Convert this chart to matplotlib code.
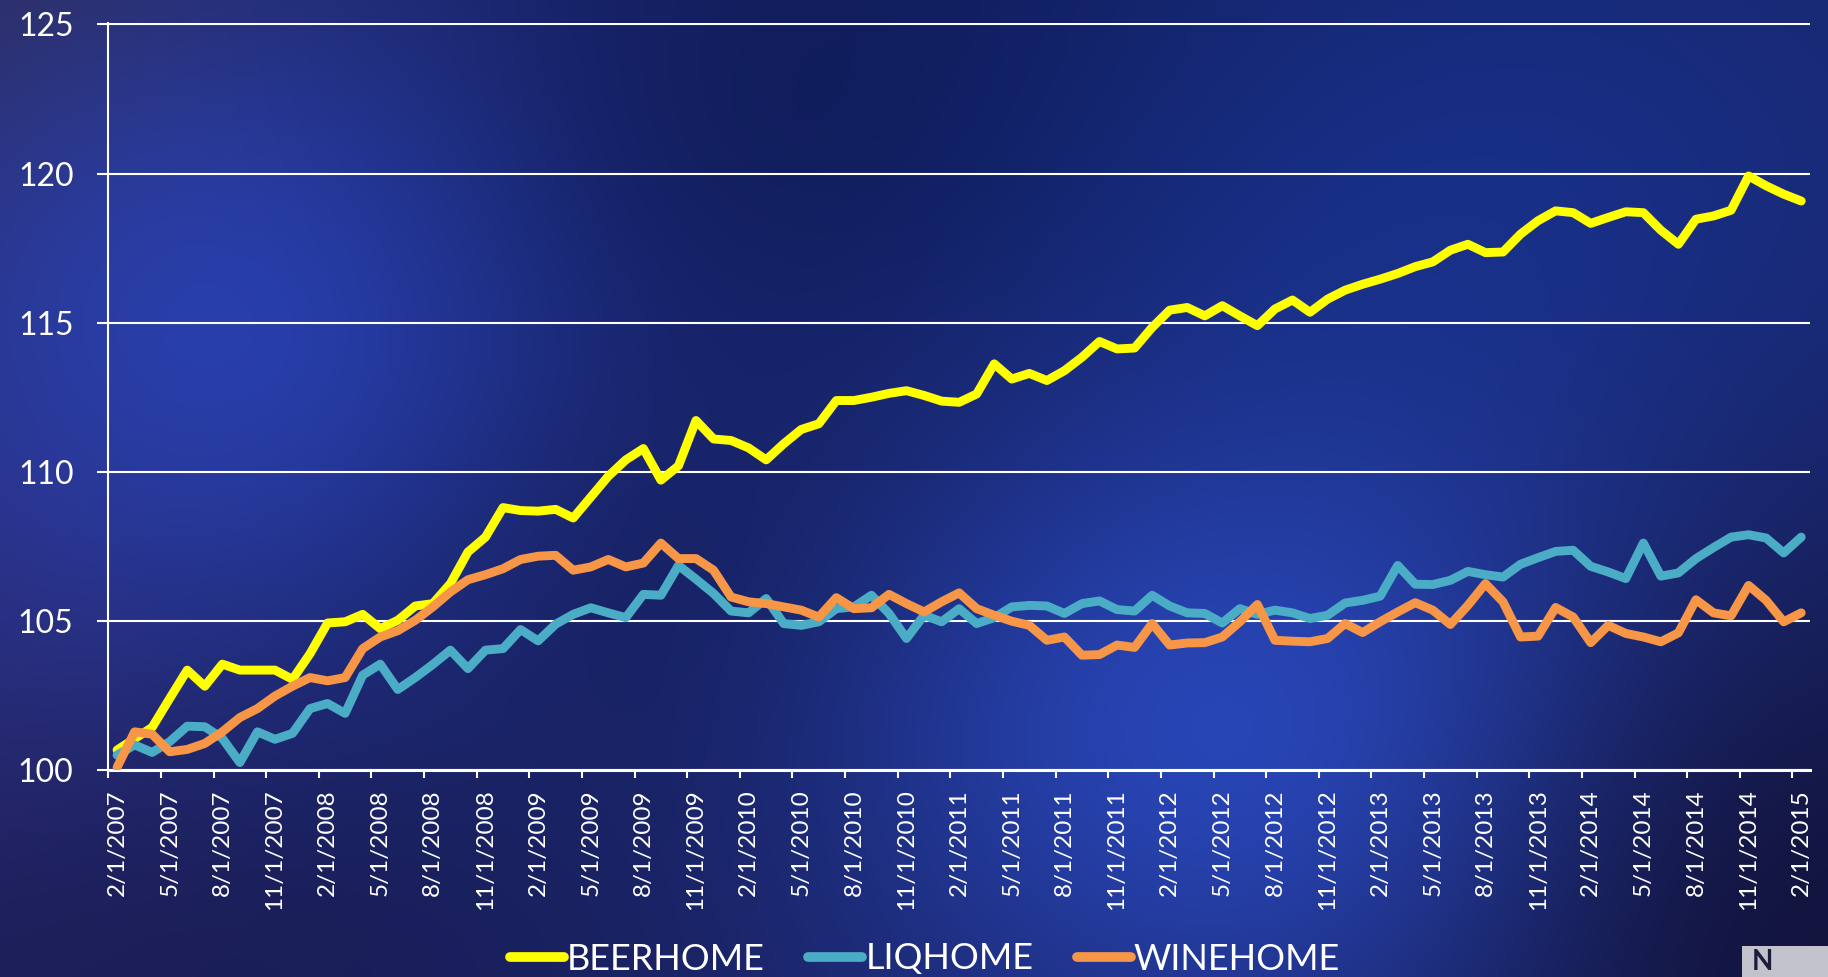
import numpy as np
import matplotlib
matplotlib.use("Agg")
import matplotlib.pyplot as plt
from matplotlib.lines import Line2D
from matplotlib.patches import Rectangle

# ---------------- data ----------------
series_names = ["BEERHOME", "LIQHOME", "WINEHOME"]

beerhome = [100.67, 101.05, 101.43, 102.40, 103.35, 102.81, 103.55, 103.35, 103.35, 103.35,
            103.04, 103.90, 104.93, 104.97, 105.22, 104.74, 105.02, 105.50, 105.58, 106.25,
            107.31, 107.81, 108.80, 108.70, 108.68, 108.74, 108.45, 109.15, 109.85, 110.40,
            110.78, 109.72, 110.20, 111.72, 111.10, 111.05, 110.80, 110.40, 110.94, 111.42,
            111.61, 112.39, 112.39, 112.50, 112.63, 112.72, 112.56, 112.37, 112.33, 112.61,
            113.62, 113.11, 113.30, 113.06, 113.39, 113.84, 114.37, 114.12, 114.15, 114.84,
            115.42, 115.51, 115.23, 115.57, 115.23, 114.90, 115.46, 115.76, 115.35, 115.79,
            116.09, 116.29, 116.46, 116.65, 116.88, 117.04, 117.43, 117.63, 117.35, 117.37,
            117.97, 118.42, 118.75, 118.69, 118.33, 118.53, 118.72, 118.69, 118.10, 117.63,
            118.47, 118.58, 118.77, 119.92, 119.59, 119.31, 119.08]

liqhome = [100.50, 100.84, 100.59, 100.95, 101.47, 101.45, 101.06, 100.25, 101.28, 101.03,
           101.23, 102.06, 102.23, 101.90, 103.18, 103.55, 102.70, 103.10, 103.54, 104.02,
           103.40, 104.02, 104.07, 104.71, 104.33, 104.89, 105.22, 105.44, 105.27, 105.11,
           105.89, 105.86, 106.86, 106.40, 105.92, 105.33, 105.27, 105.75, 104.91, 104.85,
           104.97, 105.41, 105.47, 105.86, 105.25, 104.41, 105.19, 104.97, 105.41, 104.91,
           105.11, 105.47, 105.52, 105.50, 105.25, 105.58, 105.67, 105.38, 105.33, 105.86,
           105.50, 105.27, 105.25, 104.93, 105.41, 105.22, 105.36, 105.27, 105.08, 105.19,
           105.60, 105.69, 105.83, 106.86, 106.23, 106.22, 106.36, 106.66, 106.55, 106.47,
           106.90, 107.12, 107.33, 107.37, 106.83, 106.64, 106.42, 107.61, 106.50, 106.61,
           107.09, 107.46, 107.81, 107.89, 107.78, 107.28, 107.81]

winehome = [100.09, 101.28, 101.20, 100.61, 100.69, 100.89, 101.28, 101.76, 102.06, 102.48,
            102.81, 103.10, 102.99, 103.10, 104.07, 104.46, 104.67, 105.02, 105.47, 105.97,
            106.38, 106.55, 106.75, 107.06, 107.17, 107.20, 106.70, 106.81, 107.06, 106.81,
            106.94, 107.61, 107.09, 107.09, 106.70, 105.80, 105.64, 105.58, 105.47, 105.36,
            105.13, 105.78, 105.41, 105.44, 105.89, 105.58, 105.30, 105.64, 105.94, 105.41,
            105.19, 104.99, 104.85, 104.35, 104.46, 103.85, 103.87, 104.19, 104.11, 104.91,
            104.19, 104.26, 104.27, 104.46, 104.97, 105.55, 104.35, 104.32, 104.30, 104.41,
            104.91, 104.61, 104.97, 105.30, 105.61, 105.36, 104.88, 105.52, 106.25, 105.64,
            104.46, 104.49, 105.45, 105.13, 104.27, 104.85, 104.58, 104.46, 104.30, 104.60,
            105.71, 105.27, 105.17, 106.19, 105.69, 104.97, 105.27]

tick_labels = ["2/1/2007", "5/1/2007", "8/1/2007", "11/1/2007",
               "2/1/2008", "5/1/2008", "8/1/2008", "11/1/2008",
               "2/1/2009", "5/1/2009", "8/1/2009", "11/1/2009",
               "2/1/2010", "5/1/2010", "8/1/2010", "11/1/2010",
               "2/1/2011", "5/1/2011", "8/1/2011", "11/1/2011",
               "2/1/2012", "5/1/2012", "8/1/2012", "11/1/2012",
               "2/1/2013", "5/1/2013", "8/1/2013", "11/1/2013",
               "2/1/2014", "5/1/2014", "8/1/2014", "11/1/2014",
               "2/1/2015"]

y_ticks = [100, 105, 110, 115, 120, 125]
colors = ["#FFFF00", "#4BACC6", "#F79646"]

# ---------------- figure ----------------
W, H = 1828, 977
fig = plt.figure(figsize=(W / 100, H / 100), dpi=100)
plt.rcParams['font.family'] = ['Lato', 'DejaVu Sans']

# background: smooth blue texture built from soft blobs
gh, gw = 244, 457
yy, xx = np.mgrid[0:gh, 0:gw]
xx = xx * (W / gw)
yy = yy * (H / gh)
img = np.zeros((gh, gw, 3))
img[:] = np.array([0.10, 0.14, 0.40])
blobs = [
    # cx, cy, sx, sy, color, strength
    (0, 0, 260, 300, (0.19, 0.17, 0.32), 0.85),
    (0, 650, 160, 260, (0.20, 0.18, 0.48), 0.6),
    (280, 320, 300, 240, (0.17, 0.27, 0.74), 0.88),
    (900, 120, 300, 220, (0.05, 0.09, 0.31), 0.85),
    (1500, 220, 380, 260, (0.09, 0.20, 0.57), 0.75),
    (760, 620, 230, 200, (0.07, 0.09, 0.29), 0.7),
    (1280, 740, 330, 240, (0.17, 0.30, 0.78), 0.9),
    (1828, 977, 260, 330, (0.07, 0.07, 0.22), 0.9),
    (150, 977, 380, 170, (0.10, 0.10, 0.30), 0.6),
]
for cx, cy, sx, sy, c, s in blobs:
    w = s * np.exp(-(((xx - cx) / sx) ** 2 + ((yy - cy) / sy) ** 2) / 2)
    img = img * (1 - w[..., None]) + np.array(c) * w[..., None]
bg = fig.add_axes([0, 0, 1, 1], zorder=-1)
bg.imshow(img, aspect='auto', interpolation='bicubic', extent=(0, 1, 0, 1))
bg.axis('off')

ax = fig.add_axes([108.3 / W, 1 - 770 / H, (1810 - 108.3) / W, (770 - 23.3) / H])
ax.set_facecolor('none')

x = np.arange(len(beerhome))
for vals, col in zip([beerhome, liqhome, winehome], colors):
    ax.plot(x, vals, color=col, lw=6.4, solid_joinstyle='round',
            solid_capstyle='round', zorder=3)

n = len(beerhome)
ax.set_xlim(-0.5, n - 0.5)
ax.set_ylim(100, 125.04)

ax.set_xticks(np.arange(0, n, 3))
ax.set_xticklabels(tick_labels, rotation=90, fontsize=17.5, color='white')
ax.set_xticks(np.arange(-0.5, n - 1, 3), minor=True)
ax.tick_params(axis='x', which='major', length=0, pad=14)
ax.tick_params(axis='x', which='minor', length=6, width=1.5, color='white', direction='out')

ax.set_yticks(y_ticks)
ax.set_yticklabels([str(v) for v in y_ticks], fontsize=23, color='white')
ax.tick_params(axis='y', which='major', length=8, width=1.5, color='white', pad=17)

ax.grid(axis='y', color='white', lw=1.5, zorder=1)
ax.set_axisbelow(True)
for sp in ['top', 'right']:
    ax.spines[sp].set_visible(False)
ax.spines['left'].set_color('white')
ax.spines['left'].set_linewidth(1.5)
ax.spines['bottom'].set_color('white')
ax.spines['bottom'].set_linewidth(2.2)

handles = [Line2D([0], [0], color=c, lw=7, solid_capstyle='round') for c in colors]
leg = fig.legend(handles, series_names, loc='center', bbox_to_anchor=(925 / W, 1 - 959 / H),
                 ncol=3, frameon=False, fontsize=26, handlelength=1.5,
                 handletextpad=0.08, columnspacing=1.2, borderpad=0)
for t in leg.get_texts():
    t.set_color('white')

# corner logo fragment
fig.patches.append(Rectangle((1742 / W, 0), 86 / W, 31 / H, transform=fig.transFigure,
                             facecolor='#c2c2cc', edgecolor='none', zorder=5))
fig.text(1752 / W, 2 / H, "N", fontsize=20, fontweight='bold', color='#1b1b3c',
         ha='left', va='bottom', zorder=6)

fig.savefig('out.png', dpi=100)
